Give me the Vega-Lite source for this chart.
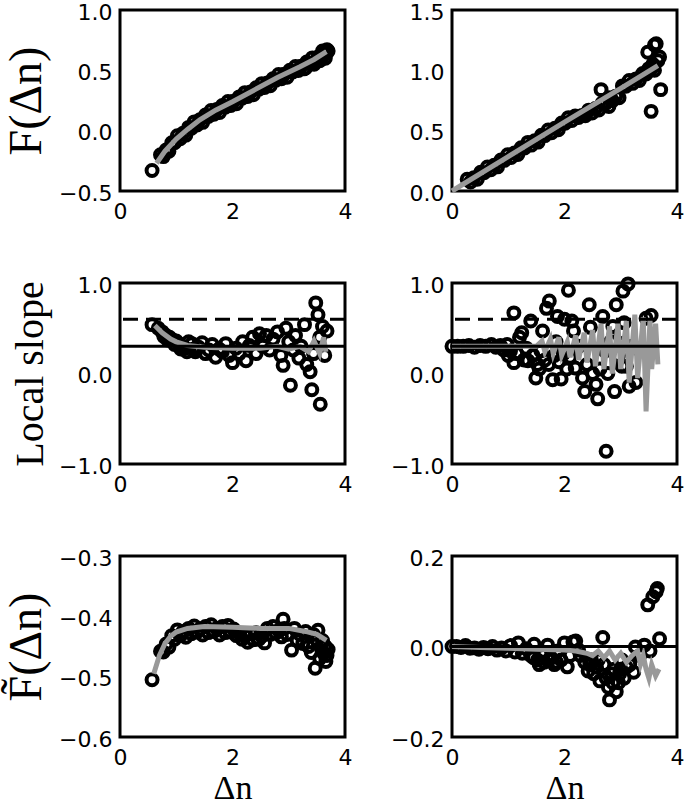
{
  "$schema": "https://vega.github.io/schema/vega-lite/v6.json",
  "autosize": {"type": "none"},
  "padding": {"left": 120, "top": 10, "right": 565, "bottom": 796},
  "background": "white",
  "config": {
    "view": {"stroke": "black", "strokeWidth": 3},
    "axis": {
      "domain": false, "ticks": false, "grid": false, "labelFlush": false,
      "labelFont": "DejaVu Sans", "labelFontSize": 22, "labelColor": "black",
      "titleFont": "Liberation Serif", "titleFontWeight": "normal", "titleColor": "black"
    },
    "axisX": {"labelPadding": 10, "titleFontSize": 34, "titlePadding": 3},
    "axisY": {"labelPadding": 8, "titlePadding": 8, "labelOffset": 2},
    "point": {"shape": "circle", "filled": false, "color": "black", "strokeWidth": 4, "size": 120, "opacity": 1},
    "line": {"color": "#999999", "strokeWidth": 5}
  },
  "datasets": {
    "A_pts": [
      {"x":0.57,"y":-0.33},{"x":0.72,"y":-0.20},{"x":0.77,"y":-0.215},{"x":0.82,"y":-0.16},{"x":0.87,"y":-0.17},
      {"x":0.92,"y":-0.10},{"x":0.97,"y":-0.10},{"x":1.02,"y":-0.042},{"x":1.07,"y":-0.067},{"x":1.12,"y":-0.022},
      {"x":1.17,"y":-0.037},{"x":1.22,"y":0.027},{"x":1.27,"y":0.02},{"x":1.32,"y":0.073},{"x":1.37,"y":0.047},
      {"x":1.42,"y":0.09},{"x":1.47,"y":0.069},{"x":1.52,"y":0.129},{"x":1.57,"y":0.118},{"x":1.62,"y":0.167},
      {"x":1.67,"y":0.136},{"x":1.72,"y":0.175},{"x":1.77,"y":0.151},{"x":1.82,"y":0.208},{"x":1.87,"y":0.195},
      {"x":1.92,"y":0.241},{"x":1.97,"y":0.208},{"x":2.02,"y":0.245},{"x":2.07,"y":0.223},{"x":2.12,"y":0.28},
      {"x":2.17,"y":0.268},{"x":2.22,"y":0.315},{"x":2.27,"y":0.283},{"x":2.32,"y":0.32},{"x":2.37,"y":0.298},
      {"x":2.42,"y":0.355},{"x":2.47,"y":0.343},{"x":2.52,"y":0.39},{"x":2.57,"y":0.358},{"x":2.62,"y":0.395},
      {"x":2.67,"y":0.373},{"x":2.72,"y":0.43},{"x":2.77,"y":0.418},{"x":2.82,"y":0.465},{"x":2.87,"y":0.431},
      {"x":2.92,"y":0.467},{"x":2.97,"y":0.443},{"x":3.02,"y":0.50},{"x":3.07,"y":0.486},{"x":3.12,"y":0.532},
      {"x":3.17,"y":0.498},{"x":3.22,"y":0.535},{"x":3.27,"y":0.512},{"x":3.32,"y":0.569},{"x":3.37,"y":0.556},
      {"x":3.42,"y":0.603},{"x":3.47,"y":0.571},{"x":3.52,"y":0.611},{"x":3.57,"y":0.59},{"x":3.62,"y":0.65},
      {"x":3.67,"y":0.64},{"x":3.70,"y":0.66},
      {"x":3.30,"y":0.52},{"x":3.45,"y":0.55},{"x":3.55,"y":0.58},{"x":3.65,"y":0.60},{"x":3.60,"y":0.66},{"x":3.68,"y":0.67}
    ],
    "A_fit": [
      {"x":0.65,"y":-0.27},{"x":0.8,"y":-0.17},{"x":1.0,"y":-0.07},{"x":1.2,"y":0.01},{"x":1.42,"y":0.09},
      {"x":1.7,"y":0.17},{"x":2.0,"y":0.24},{"x":2.4,"y":0.34},{"x":2.8,"y":0.44},{"x":3.2,"y":0.53},
      {"x":3.45,"y":0.59},{"x":3.67,"y":0.655}
    ],
    "B_pts": [
      {"x":0.27,"y":0.097},{"x":0.33,"y":0.074},{"x":0.39,"y":0.111},{"x":0.45,"y":0.098},{"x":0.51,"y":0.155},
      {"x":0.57,"y":0.152},{"x":0.63,"y":0.199},{"x":0.69,"y":0.176},{"x":0.75,"y":0.213},{"x":0.81,"y":0.20},
      {"x":0.87,"y":0.257},{"x":0.93,"y":0.254},{"x":0.99,"y":0.301},{"x":1.05,"y":0.278},{"x":1.11,"y":0.315},
      {"x":1.17,"y":0.302},{"x":1.23,"y":0.359},{"x":1.29,"y":0.356},{"x":1.35,"y":0.403},{"x":1.41,"y":0.38},
      {"x":1.47,"y":0.417},{"x":1.53,"y":0.405},{"x":1.59,"y":0.462},{"x":1.65,"y":0.459},{"x":1.71,"y":0.506},
      {"x":1.77,"y":0.483},{"x":1.83,"y":0.52},{"x":1.89,"y":0.507},{"x":1.95,"y":0.564},{"x":2.01,"y":0.561},
      {"x":2.07,"y":0.608},{"x":2.13,"y":0.585},{"x":2.19,"y":0.622},{"x":2.25,"y":0.609},{"x":2.31,"y":0.626},
      {"x":2.37,"y":0.623},{"x":2.43,"y":0.67},{"x":2.49,"y":0.647},{"x":2.55,"y":0.684},{"x":2.61,"y":0.671},
      {"x":2.67,"y":0.728},{"x":2.73,"y":0.725},{"x":2.79,"y":0.772},{"x":2.85,"y":0.749},{"x":2.91,"y":0.786},
      {"x":2.97,"y":0.773},{"x":3.03,"y":0.871},{"x":3.09,"y":0.868},{"x":3.15,"y":0.915},{"x":3.21,"y":0.892},
      {"x":3.27,"y":0.929},{"x":3.33,"y":0.916},{"x":3.39,"y":0.973},{"x":3.45,"y":0.97},{"x":3.50,"y":1.014},
      {"x":2.65,"y":0.84},{"x":2.79,"y":0.70},{"x":3.48,"y":1.15},{"x":3.54,"y":0.66},{"x":3.57,"y":1.05},
      {"x":3.60,"y":1.21},{"x":3.63,"y":1.22},{"x":3.66,"y":1.08},{"x":3.69,"y":1.11},{"x":3.71,"y":0.84},
      {"x":3.55,"y":1.02},{"x":3.60,"y":1.00}
    ],
    "B_fit": [
      {"x":0.0,"y":0.0},{"x":1.0,"y":0.285},{"x":2.0,"y":0.57},{"x":3.0,"y":0.85},{"x":3.66,"y":1.04}
    ],
    "C_pts": [
      {"x":0.57,"y":0.54},{"x":0.68,"y":0.50},{"x":0.75,"y":0.46},{"x":0.78,"y":0.41},{"x":0.82,"y":0.42},{"x":0.85,"y":0.37},{"x":0.88,"y":0.40},
      {"x":0.94,"y":0.37},{"x":0.97,"y":0.32},{"x":1.00,"y":0.36},{"x":1.05,"y":0.33},{"x":1.08,"y":0.27},{"x":1.10,"y":0.30},{"x":1.16,"y":0.28},
      {"x":1.19,"y":0.24},{"x":1.22,"y":0.35},{"x":1.28,"y":0.33},{"x":1.31,"y":0.27},{"x":1.34,"y":0.24},{"x":1.40,"y":0.29},{"x":1.46,"y":0.34},
      {"x":1.52,"y":0.22},{"x":1.58,"y":0.26},{"x":1.64,"y":0.32},{"x":1.70,"y":0.18},{"x":1.76,"y":0.27},
      {"x":1.82,"y":0.24},{"x":1.88,"y":0.33},{"x":1.94,"y":0.20},{"x":2.00,"y":0.12},{"x":2.06,"y":0.28},
      {"x":2.12,"y":0.22},{"x":2.18,"y":0.35},{"x":2.24,"y":0.14},{"x":2.30,"y":0.31},{"x":2.36,"y":0.40},
      {"x":2.42,"y":0.22},{"x":2.48,"y":0.44},{"x":2.54,"y":0.30},{"x":2.60,"y":0.42},{"x":2.66,"y":0.26},
      {"x":2.72,"y":0.38},{"x":2.80,"y":0.46},{"x":2.86,"y":0.20},{"x":2.90,"y":0.09},{"x":2.95,"y":0.50},
      {"x":3.00,"y":0.35},{"x":3.03,"y":-0.13},{"x":3.08,"y":0.26},{"x":3.12,"y":0.42},{"x":3.18,"y":0.17},
      {"x":3.22,"y":0.30},{"x":3.28,"y":0.54},{"x":3.32,"y":0.10},{"x":3.38,"y":0.02},{"x":3.41,"y":-0.18},
      {"x":3.44,"y":0.22},{"x":3.48,"y":0.78},{"x":3.52,"y":0.65},{"x":3.55,"y":0.40},{"x":3.56,"y":-0.34},
      {"x":3.60,"y":0.52},{"x":3.64,"y":0.20},{"x":3.68,"y":0.47}
    ],
    "C_fit": [
      {"x":0.62,"y":0.53},{"x":0.75,"y":0.45},{"x":0.9,"y":0.38},{"x":1.0,"y":0.35},{"x":1.2,"y":0.31},
      {"x":1.5,"y":0.29},{"x":2.0,"y":0.28},{"x":2.5,"y":0.28},{"x":2.8,"y":0.30},{"x":3.0,"y":0.27},
      {"x":3.2,"y":0.30},{"x":3.35,"y":0.24},{"x":3.45,"y":0.36},{"x":3.55,"y":0.22},{"x":3.62,"y":0.40},
      {"x":3.66,"y":0.24}
    ],
    "D_pts": [
      {"x":0.00,"y":0.30},{"x":0.10,"y":0.30},{"x":0.20,"y":0.30},{"x":0.30,"y":0.31},{"x":0.40,"y":0.29},
      {"x":0.50,"y":0.31},{"x":0.60,"y":0.30},{"x":0.70,"y":0.32},{"x":0.78,"y":0.29},{"x":0.86,"y":0.31},
      {"x":0.92,"y":0.26},{"x":0.98,"y":0.32},{"x":1.00,"y":0.20},{"x":1.04,"y":0.25},{"x":1.10,"y":0.67},
      {"x":1.10,"y":0.12},{"x":1.15,"y":0.22},{"x":1.20,"y":0.40},{"x":1.24,"y":0.45},{"x":1.28,"y":0.15},
      {"x":1.32,"y":0.28},{"x":1.35,"y":0.14},{"x":1.40,"y":0.58},{"x":1.44,"y":0.20},{"x":1.49,"y":-0.05},
      {"x":1.52,"y":0.10},{"x":1.55,"y":0.05},{"x":1.58,"y":0.25},{"x":1.61,"y":0.47},{"x":1.65,"y":0.15},
      {"x":1.68,"y":0.72},{"x":1.72,"y":0.10},{"x":1.73,"y":0.80},{"x":1.79,"y":-0.07},{"x":1.82,"y":0.20},
      {"x":1.85,"y":0.35},{"x":1.875,"y":0.63},{"x":1.90,"y":0.13},{"x":1.94,"y":-0.06},{"x":1.98,"y":0.22},
      {"x":2.00,"y":0.60},{"x":2.04,"y":0.05},{"x":2.07,"y":0.92},{"x":2.10,"y":0.18},{"x":2.13,"y":0.58},
      {"x":2.16,"y":0.47},{"x":2.19,"y":0.06},{"x":2.25,"y":0.30},{"x":2.32,"y":-0.05},{"x":2.36,"y":-0.20},
      {"x":2.40,"y":0.10},{"x":2.44,"y":0.76},{"x":2.46,"y":0.51},{"x":2.50,"y":0.00},{"x":2.56,"y":-0.12},
      {"x":2.59,"y":-0.28},{"x":2.63,"y":0.05},{"x":2.68,"y":0.63},{"x":2.72,"y":0.25},{"x":2.74,"y":-0.86},
      {"x":2.77,"y":0.00},{"x":2.82,"y":0.35},{"x":2.86,"y":0.52},{"x":2.89,"y":-0.20},{"x":2.92,"y":0.76},
      {"x":2.96,"y":0.20},{"x":3.00,"y":0.45},{"x":3.02,"y":0.08},{"x":3.04,"y":0.91},{"x":3.06,"y":0.56},
      {"x":3.10,"y":0.08},{"x":3.13,"y":0.99},{"x":3.15,"y":-0.14},{"x":3.20,"y":0.30},{"x":3.27,"y":-0.10},
      {"x":3.35,"y":0.25},{"x":3.45,"y":0.61},{"x":3.54,"y":0.64}
    ],
    "D_fit": [
      {"x":0.0,"y":0.30},{"x":0.5,"y":0.30},{"x":1.0,"y":0.30},{"x":1.50,"y":0.30},{"x":1.60,"y":0.36},
      {"x":1.65,"y":0.24},{"x":1.75,"y":0.38},{"x":1.80,"y":0.22},{"x":1.90,"y":0.40},{"x":1.95,"y":0.20},
      {"x":2.05,"y":0.35},{"x":2.10,"y":0.18},{"x":2.20,"y":0.42},{"x":2.25,"y":0.15},{"x":2.35,"y":0.45},
      {"x":2.40,"y":0.12},{"x":2.50,"y":0.48},{"x":2.55,"y":0.08},{"x":2.65,"y":0.55},{"x":2.70,"y":0.05},
      {"x":2.80,"y":0.52},{"x":2.85,"y":0.00},{"x":2.95,"y":0.55},{"x":3.00,"y":0.05},{"x":3.10,"y":0.58},
      {"x":3.15,"y":-0.10},{"x":3.25,"y":0.65},{"x":3.30,"y":-0.05},{"x":3.40,"y":0.62},{"x":3.45,"y":-0.42},
      {"x":3.52,"y":0.60},{"x":3.55,"y":0.05},{"x":3.62,"y":0.55},{"x":3.66,"y":0.10}
    ],
    "E_pts": [
      {"x":0.57,"y":-0.505},{"x":0.72,"y":-0.458},{"x":0.77,"y":-0.459},{"x":0.82,"y":-0.446},{"x":0.87,"y":-0.451},
      {"x":0.92,"y":-0.432},{"x":0.97,"y":-0.438},{"x":1.02,"y":-0.4225},{"x":1.07,"y":-0.432},{"x":1.12,"y":-0.425},
      {"x":1.17,"y":-0.4345},{"x":1.22,"y":-0.42},{"x":1.27,"y":-0.429},{"x":1.32,"y":-0.416},{"x":1.37,"y":-0.426},
      {"x":1.42,"y":-0.421},{"x":1.47,"y":-0.431},{"x":1.52,"y":-0.417},{"x":1.57,"y":-0.427},{"x":1.62,"y":-0.414},
      {"x":1.67,"y":-0.425},{"x":1.72,"y":-0.42},{"x":1.77,"y":-0.431},{"x":1.82,"y":-0.417},{"x":1.87,"y":-0.427},
      {"x":1.92,"y":-0.415},{"x":1.97,"y":-0.426},{"x":2.02,"y":-0.421},{"x":2.07,"y":-0.432},{"x":2.12,"y":-0.428},
      {"x":2.17,"y":-0.438},{"x":2.22,"y":-0.432},{"x":2.27,"y":-0.443},{"x":2.32,"y":-0.429},{"x":2.37,"y":-0.439},
      {"x":2.42,"y":-0.427},{"x":2.47,"y":-0.438},{"x":2.52,"y":-0.433},{"x":2.57,"y":-0.444},{"x":2.62,"y":-0.42},
      {"x":2.67,"y":-0.43},{"x":2.72,"y":-0.417},{"x":2.77,"y":-0.428},{"x":2.82,"y":-0.423},{"x":2.87,"y":-0.434},
      {"x":2.92,"y":-0.42},{"x":2.97,"y":-0.43},
      {"x":2.90,"y":-0.405},{"x":3.05,"y":-0.456},{"x":3.10,"y":-0.42},{"x":3.15,"y":-0.44},{"x":3.20,"y":-0.43},
      {"x":3.25,"y":-0.445},{"x":3.30,"y":-0.425},{"x":3.35,"y":-0.45},{"x":3.40,"y":-0.46},{"x":3.44,"y":-0.43},
      {"x":3.47,"y":-0.486},{"x":3.50,"y":-0.44},{"x":3.52,"y":-0.423},{"x":3.55,"y":-0.47},{"x":3.58,"y":-0.45},
      {"x":3.62,"y":-0.461},{"x":3.65,"y":-0.45},{"x":3.68,"y":-0.465},{"x":3.60,"y":-0.44},{"x":3.66,"y":-0.475},
      {"x":3.70,"y":-0.455}
    ],
    "E_fit": [
      {"x":0.6,"y":-0.495},{"x":0.7,"y":-0.465},{"x":0.8,"y":-0.445},{"x":0.9,"y":-0.433},{"x":1.0,"y":-0.426},
      {"x":1.2,"y":-0.42},{"x":1.5,"y":-0.417},{"x":2.0,"y":-0.418},{"x":2.5,"y":-0.42},{"x":3.0,"y":-0.42},
      {"x":3.3,"y":-0.425},{"x":3.5,"y":-0.43},{"x":3.67,"y":-0.44}
    ],
    "F_pts": [
      {"x":0.00,"y":0.000},{"x":0.08,"y":0.000},{"x":0.16,"y":-0.002},{"x":0.24,"y":0.002},{"x":0.32,"y":-0.004},
      {"x":0.40,"y":-0.003},{"x":0.48,"y":-0.006},{"x":0.56,"y":-0.002},{"x":0.64,"y":-0.005},{"x":0.72,"y":0.000},
      {"x":0.80,"y":-0.008},{"x":0.88,"y":-0.003},{"x":0.96,"y":-0.01},{"x":1.04,"y":0.002},{"x":1.12,"y":-0.012},
      {"x":1.18,"y":0.008},{"x":1.25,"y":-0.015},{"x":1.32,"y":-0.005},{"x":1.40,"y":-0.02},{"x":1.46,"y":0.005},
      {"x":1.52,"y":-0.03},{"x":1.58,"y":-0.015},{"x":1.64,"y":-0.035},{"x":1.70,"y":0.003},{"x":1.76,"y":-0.025},
      {"x":1.82,"y":-0.04},{"x":1.88,"y":-0.01},{"x":1.94,"y":-0.03},{"x":2.00,"y":0.008},{"x":2.05,"y":-0.045},
      {"x":2.10,"y":-0.02},{"x":2.15,"y":0.01},{"x":2.20,"y":0.012},{"x":2.28,"y":-0.02},{"x":2.36,"y":-0.035},
      {"x":2.42,"y":-0.054},{"x":2.48,"y":-0.03},{"x":2.52,"y":-0.06},{"x":2.57,"y":-0.046},{"x":2.63,"y":-0.076},
      {"x":2.68,"y":0.020},{"x":2.70,"y":-0.04},{"x":2.74,"y":-0.07},{"x":2.78,"y":-0.09},{"x":2.80,"y":-0.118},
      {"x":2.84,"y":-0.06},{"x":2.88,"y":-0.05},{"x":2.92,"y":-0.10},{"x":2.96,"y":-0.08},{"x":2.98,"y":-0.06},
      {"x":3.02,"y":-0.03},{"x":3.06,"y":-0.07},{"x":3.10,"y":-0.046},{"x":3.16,"y":-0.04},{"x":3.23,"y":-0.057},
      {"x":3.26,"y":-0.001},{"x":3.34,"y":-0.02},{"x":3.42,"y":0.003},{"x":3.48,"y":0.092},{"x":3.52,"y":-0.01},
      {"x":3.57,"y":0.11},{"x":3.63,"y":0.121},{"x":3.65,"y":0.128},{"x":3.69,"y":0.017},
      {"x":1.45,"y":-0.025},{"x":1.55,"y":-0.04},{"x":1.62,"y":-0.02},{"x":1.72,"y":-0.03},{"x":1.86,"y":-0.035},
      {"x":2.25,"y":-0.008},{"x":2.45,"y":-0.04},{"x":2.60,"y":-0.03},{"x":2.86,"y":-0.08},{"x":3.00,"y":-0.05}
    ],
    "F_fit": [
      {"x":0.0,"y":0.0},{"x":0.5,"y":-0.002},{"x":1.0,"y":-0.004},{"x":1.5,"y":-0.006},{"x":2.0,"y":-0.008},
      {"x":2.2,"y":-0.01},{"x":2.4,"y":-0.015},{"x":2.5,"y":-0.02},{"x":2.6,"y":-0.01},{"x":2.7,"y":-0.025},
      {"x":2.8,"y":-0.01},{"x":2.9,"y":-0.03},{"x":3.0,"y":-0.015},{"x":3.1,"y":-0.035},{"x":3.2,"y":-0.02},
      {"x":3.3,"y":-0.01},{"x":3.35,"y":-0.04},{"x":3.4,"y":-0.02},{"x":3.45,"y":-0.05},{"x":3.5,"y":-0.07},
      {"x":3.55,"y":-0.04},{"x":3.62,"y":-0.065},{"x":3.68,"y":-0.05}
    ]
  },
  "bounds": "flush",
  "columns": 2,
  "spacing": {"row": 92, "column": 107},
  "concat": [
    {
      "width": 225, "height": 181,
      "layer": [
        {"data": {"name": "A_pts"}, "mark": "point",
         "encoding": {
           "x": {"field": "x", "type": "quantitative", "scale": {"domain": [0, 4], "nice": false}, "axis": {"values": [0, 2, 4], "format": "d", "title": null}},
           "y": {"field": "y", "type": "quantitative", "scale": {"domain": [-0.5, 1.0], "nice": false, "zero": false}, "axis": {"values": [-0.5, 0, 0.5, 1.0], "format": ".1f", "title": "F(Δn)", "titleFontSize": 46}}
         }},
        {"data": {"name": "A_fit"}, "mark": "line",
         "encoding": {"x": {"field": "x", "type": "quantitative"}, "y": {"field": "y", "type": "quantitative"}}}
      ]
    },
    {
      "width": 225, "height": 181,
      "layer": [
        {"data": {"name": "B_pts"}, "mark": "point",
         "encoding": {
           "x": {"field": "x", "type": "quantitative", "scale": {"domain": [0, 4], "nice": false}, "axis": {"values": [0, 2, 4], "format": "d", "title": null}},
           "y": {"field": "y", "type": "quantitative", "scale": {"domain": [0, 1.5], "nice": false, "zero": false}, "axis": {"values": [0, 0.5, 1.0, 1.5], "format": ".1f", "title": null}}
         }},
        {"data": {"name": "B_fit"}, "mark": "line",
         "encoding": {"x": {"field": "x", "type": "quantitative"}, "y": {"field": "y", "type": "quantitative"}}}
      ]
    },
    {
      "width": 225, "height": 181,
      "layer": [
        {"data": {"name": "C_pts"}, "mark": "point",
         "encoding": {
           "x": {"field": "x", "type": "quantitative", "scale": {"domain": [0, 4], "nice": false}, "axis": {"values": [0, 2, 4], "format": "d", "title": null}},
           "y": {"field": "y", "type": "quantitative", "scale": {"domain": [-1, 1], "nice": false, "zero": false}, "axis": {"values": [-1, 0, 1], "format": ".1f", "title": "Local slope", "titleFontSize": 40}}
         }},
        {"data": {"name": "C_fit"}, "mark": "line",
         "encoding": {"x": {"field": "x", "type": "quantitative"}, "y": {"field": "y", "type": "quantitative"}}},
        {"data": {"values": [{"y": 0.6}]}, "mark": {"type": "rule", "color": "black", "strokeWidth": 3, "strokeDash": [15, 8]},
         "encoding": {"y": {"field": "y", "type": "quantitative"}}},
        {"data": {"values": [{"y": 0.3}]}, "mark": {"type": "rule", "color": "black", "strokeWidth": 3},
         "encoding": {"y": {"field": "y", "type": "quantitative"}}}
      ]
    },
    {
      "width": 225, "height": 181,
      "layer": [
        {"data": {"name": "D_pts"}, "mark": "point",
         "encoding": {
           "x": {"field": "x", "type": "quantitative", "scale": {"domain": [0, 4], "nice": false}, "axis": {"values": [0, 2, 4], "format": "d", "title": null}},
           "y": {"field": "y", "type": "quantitative", "scale": {"domain": [-1, 1], "nice": false, "zero": false}, "axis": {"values": [-1, 0, 1], "format": ".1f", "title": null}}
         }},
        {"data": {"name": "D_fit"}, "mark": "line",
         "encoding": {"x": {"field": "x", "type": "quantitative"}, "y": {"field": "y", "type": "quantitative"}}},
        {"data": {"values": [{"y": 0.6}]}, "mark": {"type": "rule", "color": "black", "strokeWidth": 3, "strokeDash": [15, 8]},
         "encoding": {"y": {"field": "y", "type": "quantitative"}}},
        {"data": {"values": [{"y": 0.3}]}, "mark": {"type": "rule", "color": "black", "strokeWidth": 3},
         "encoding": {"y": {"field": "y", "type": "quantitative"}}}
      ]
    },
    {
      "width": 225, "height": 181,
      "layer": [
        {"data": {"name": "E_pts"}, "mark": "point",
         "encoding": {
           "x": {"field": "x", "type": "quantitative", "scale": {"domain": [0, 4], "nice": false}, "axis": {"values": [0, 2, 4], "format": "d", "title": "Δn"}},
           "y": {"field": "y", "type": "quantitative", "scale": {"domain": [-0.6, -0.3], "nice": false, "zero": false}, "axis": {"values": [-0.6, -0.5, -0.4, -0.3], "format": ".1f", "title": "F̃(Δn)", "titleFontSize": 46}}
         }},
        {"data": {"name": "E_fit"}, "mark": "line",
         "encoding": {"x": {"field": "x", "type": "quantitative"}, "y": {"field": "y", "type": "quantitative"}}}
      ]
    },
    {
      "width": 225, "height": 181,
      "layer": [
        {"data": {"name": "F_pts"}, "mark": "point",
         "encoding": {
           "x": {"field": "x", "type": "quantitative", "scale": {"domain": [0, 4], "nice": false}, "axis": {"values": [0, 2, 4], "format": "d", "title": "Δn"}},
           "y": {"field": "y", "type": "quantitative", "scale": {"domain": [-0.2, 0.2], "nice": false, "zero": false}, "axis": {"values": [-0.2, 0, 0.2], "format": ".1f", "title": null}}
         }},
        {"data": {"name": "F_fit"}, "mark": "line",
         "encoding": {"x": {"field": "x", "type": "quantitative"}, "y": {"field": "y", "type": "quantitative"}}},
        {"data": {"values": [{"y": 0}]}, "mark": {"type": "rule", "color": "black", "strokeWidth": 3},
         "encoding": {"y": {"field": "y", "type": "quantitative"}}}
      ]
    }
  ]
}
